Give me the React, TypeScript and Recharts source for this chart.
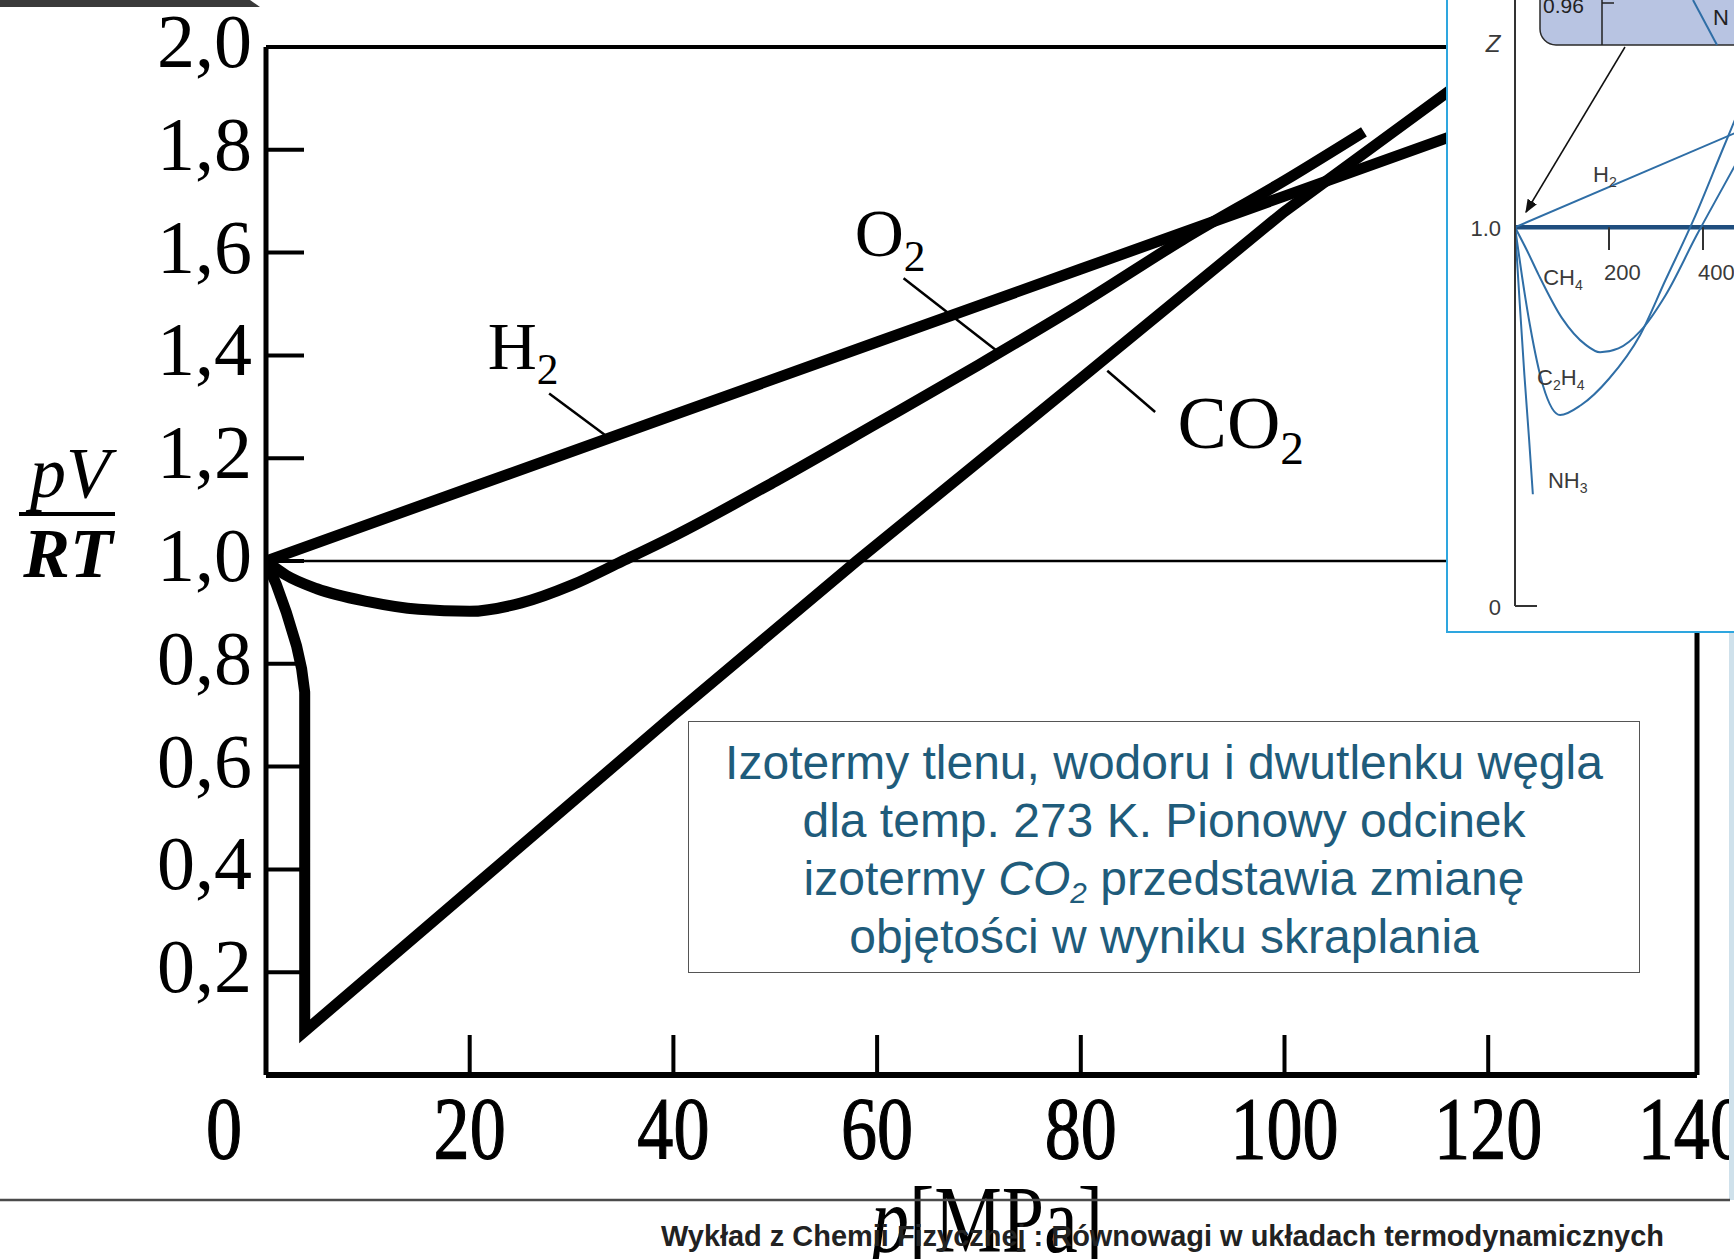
import { LineChart, Line, XAxis, YAxis, ReferenceLine, ReferenceDot } from 'recharts';

// pV/RT isotherms at 273 K, p in MPa
const X_TICKS = [0, 20, 40, 60, 80, 100, 120, 140];
const Y_TICKS = [0.2, 0.4, 0.6, 0.8, 1.0, 1.2, 1.4, 1.6, 1.8, 2.0];

const H2_PTS: [number, number][] = [
  [0, 1.0], [20, 1.142], [40, 1.284], [60, 1.426], [80, 1.568], [100, 1.71], [120, 1.852],
];

const O2_PTS: [number, number][] = [
  [0, 1.0], [2, 0.972], [5, 0.946], [10, 0.921], [15, 0.906], [20, 0.902], [25, 0.918],
  [30, 0.953], [35, 1.0], [40, 1.048], [50, 1.155], [60, 1.268], [70, 1.382], [80, 1.5],
  [90, 1.625], [100, 1.74], [107.8, 1.835],
];

// vertical drop at ~3.8 MPa = condensation
const CO2_PTS: [number, number][] = [
  [0, 1.0], [1, 0.955], [2, 0.9], [3, 0.835], [3.5, 0.79], [3.8, 0.745], [3.8, 0.085],
  [20, 0.36], [40, 0.7], [58, 1.0], [80, 1.355], [100, 1.68], [120, 1.97],
];

// small Z vs p [atm] figure in the corner
const INSET_H2: [number, number][] = [[0, 1.0], [480, 1.255]];
const INSET_CH4: [number, number][] = [
  [0, 1.0], [25, 0.94], [50, 0.875], [100, 0.76], [150, 0.69], [181, 0.67], [220, 0.68],
  [266, 0.725], [320, 0.82], [387, 0.98], [440, 1.1], [480, 1.19],
];
const INSET_C2H4: [number, number][] = [
  [0, 1.0], [15, 0.87], [32, 0.74], [60, 0.58], [96, 0.504], [140, 0.53], [200, 0.6],
  [266, 0.715], [320, 0.86], [380, 1.02], [440, 1.2], [480, 1.32],
];
const INSET_NH3: [number, number][] = [[0, 1.0], [10, 0.8], [20, 0.61], [30, 0.44], [38, 0.295]];

const toPts = (pairs: [number, number][]) => pairs.map(([p, z]) => ({ p, z }));

const SERIF = "'Liberation Serif', 'Times New Roman', serif";
const SANS = "'Liberation Sans', Arial, sans-serif";
const INSET_BLUE = '#2f6ea6';
const INSET_TEXT = '#3a3a3a';

const renderXTick = (props: any) => {
  const { x, y, payload } = props;
  const v = payload.value;
  const dx = v === 0 ? -42 : 0;
  return (
    <g>
      {v > 0 && v < 140 && (
        <line x1={x} x2={x} y1={y} y2={y - 40} stroke="#000" strokeWidth={4} />
      )}
      <text
        transform={`translate(${x + dx},${y + 83}) scale(0.82,1)`}
        textAnchor="middle"
        fontFamily={SERIF}
        fontSize={88}
        fill="#000"
        stroke="#000"
        strokeWidth={1.2}
      >
        {v}
      </text>
    </g>
  );
};

const renderYTick = (props: any) => {
  const { x, y, payload } = props;
  const v = payload.value;
  return (
    <g>
      {v < 1.95 && (
        <line x1={x} x2={x + 38} y1={y} y2={y} stroke="#000" strokeWidth={4} />
      )}
      <text x={x - 14} y={y + 20} textAnchor="end" fontFamily={SERIF} fontSize={76} fill="#000">
        {v.toFixed(1).replace('.', ',')}
      </text>
    </g>
  );
};

const renderInsetYTick = (props: any) => {
  const { x, y, payload } = props;
  const v = payload.value;
  return (
    <g>
      {v === 0 && <line x1={x} x2={x + 22} y1={y} y2={y} stroke="#333" strokeWidth={2} />}
      <text x={x - 14} y={y + 9} textAnchor="end" fontFamily={SANS} fontSize={22} fill={INSET_TEXT}>
        {v === 0 ? '0' : '1.0'}
      </text>
    </g>
  );
};

// formula with subscripted digits, e.g. [['C', '2'], ['H', '4']]
const formula = (parts: [string, string][], size: number, family: string, fill: string) =>
  (props: any) => (
    <text x={props.cx} y={props.cy} fontFamily={family} fontSize={size} fill={fill}>
      {parts.map(([main, sub], i) => (
        <tspan key={i}>
          <tspan dy={i === 0 ? 0 : -size * 0.22}>{main}</tspan>
          <tspan fontSize={size * 0.64} dy={size * 0.22}>{sub}</tspan>
        </tspan>
      ))}
    </text>
  );

const insetTickLabel = (label: string) => (props: any) => (
  <text x={props.cx - 5} y={props.cy} fontFamily={SANS} fontSize={22} fill={INSET_TEXT}>
    {label}
  </text>
);

export default function App() {
  const thick = { stroke: '#000', strokeWidth: 11, dot: false, isAnimationActive: false, dataKey: 'z' };
  const thin = { stroke: INSET_BLUE, strokeWidth: 2, dot: false, isAnimationActive: false, dataKey: 'z' };

  return (
    <div
      style={{
        position: 'absolute',
        left: 0,
        top: 0,
        width: 1734,
        height: 1259,
        overflow: 'hidden',
        background: '#fff',
      }}
    >
      <div style={{ position: 'absolute', left: 0, top: 0 }}>
        <LineChart width={1734} height={1259} margin={{ top: 47, right: 37, bottom: 183, left: 265 }}>
          <XAxis
            type="number"
            dataKey="p"
            domain={[0, 140.5]}
            ticks={X_TICKS}
            interval={0}
            height={1}
            tickSize={0}
            tickMargin={0}
            tickLine={false}
            axisLine={{ stroke: '#000', strokeWidth: 6 }}
            tick={renderXTick}
            allowDataOverflow
          />
          <YAxis
            type="number"
            domain={[0, 2]}
            ticks={Y_TICKS}
            interval={0}
            width={1}
            tickSize={0}
            tickMargin={0}
            tickLine={false}
            axisLine={{ stroke: '#000', strokeWidth: 5 }}
            tick={renderYTick}
            allowDataOverflow
          />
          <ReferenceLine y={2} stroke="#000" strokeWidth={4} />
          <ReferenceLine x={140.5} stroke="#000" strokeWidth={5} />
          <ReferenceLine y={1} stroke="#000" strokeWidth={2.5} />

          {/* leader lines from the gas names to their curves */}
          <ReferenceLine segment={[{ x: 27.8, y: 1.326 }, { x: 33.35, y: 1.244 }]} stroke="#000" strokeWidth={2.5} />
          <ReferenceLine segment={[{ x: 62.6, y: 1.55 }, { x: 72, y: 1.405 }]} stroke="#000" strokeWidth={2.5} />
          <ReferenceLine segment={[{ x: 82.6, y: 1.37 }, { x: 87.3, y: 1.29 }]} stroke="#000" strokeWidth={2.5} />

          <Line {...thick} data={toPts(H2_PTS)} type="linear" />
          <Line {...thick} data={toPts(O2_PTS)} type="monotone" />
          <Line {...thick} data={toPts(CO2_PTS)} type="linear" />

          <ReferenceDot x={21.76} y={1.374} r={0} shape={formula([['H', '2']], 68, SERIF, '#000')} />
          <ReferenceDot x={57.8} y={1.593} r={0} shape={formula([['O', '2']], 68, SERIF, '#000')} />
          <ReferenceDot x={89.5} y={1.22} r={0} shape={formula([['CO', '2']], 74, SERIF, '#000')} />
        </LineChart>
      </div>

      {/* caption box */}
      <div
        style={{
          position: 'absolute',
          left: 688,
          top: 721,
          width: 952,
          height: 252,
          boxSizing: 'border-box',
          border: '1.5px solid #555',
          background: '#fff',
          paddingTop: 12,
          textAlign: 'center',
          fontFamily: SANS,
          fontSize: 48,
          lineHeight: '58px',
          color: '#1f5c7b',
        }}
      >
        <div>Izotermy tlenu, wodoru i dwutlenku węgla</div>
        <div>dla temp. 273 K. Pionowy odcinek</div>
        <div>
          izotermy{' '}
          <i>
            CO
            <sub style={{ fontSize: '0.62em', lineHeight: 0, verticalAlign: '-0.28em' }}>2</sub>
          </i>{' '}
          przedstawia zmianę
        </div>
        <div>objętości w wyniku skraplania</div>
      </div>

      {/* corner figure */}
      <div
        style={{
          position: 'absolute',
          left: 1446,
          top: -2,
          width: 320,
          height: 635,
          boxSizing: 'border-box',
          border: '2px solid #2ea6df',
          background: '#fff',
        }}
      />
      <div style={{ position: 'absolute', left: 1446, top: 0 }}>
        <LineChart width={320} height={640} margin={{ top: 0, right: 16, bottom: 34, left: 68 }}>
          <XAxis type="number" dataKey="p" domain={[0, 500]} hide allowDataOverflow />
          <YAxis
            type="number"
            domain={[0, 1.6]}
            ticks={[0, 1]}
            interval={0}
            width={1}
            tickSize={0}
            tickMargin={0}
            tickLine={false}
            axisLine={{ stroke: '#333', strokeWidth: 2 }}
            tick={renderInsetYTick}
          />
          <ReferenceLine y={1} stroke="#1f4e7e" strokeWidth={4.5} />
          <ReferenceLine segment={[{ x: 200, y: 1 }, { x: 200, y: 0.94 }]} stroke="#333" strokeWidth={2} />
          <ReferenceLine segment={[{ x: 400, y: 1 }, { x: 400, y: 0.94 }]} stroke="#333" strokeWidth={2} />
          <ReferenceDot x={200} y={0.86} r={0} shape={insetTickLabel('200')} />
          <ReferenceDot x={400} y={0.86} r={0} shape={insetTickLabel('400')} />

          <Line {...thin} data={toPts(INSET_H2)} type="linear" />
          <Line {...thin} data={toPts(INSET_CH4)} type="monotone" />
          <Line {...thin} data={toPts(INSET_C2H4)} type="monotone" />
          <Line {...thin} data={toPts(INSET_NH3)} type="monotone" />

          <ReferenceDot x={166} y={1.12} r={0} shape={formula([['H', '2']], 22, SANS, INSET_TEXT)} />
          <ReferenceDot x={60} y={0.847} r={0} shape={formula([['CH', '4']], 22, SANS, INSET_TEXT)} />
          <ReferenceDot x={47} y={0.583} r={0} shape={formula([['C', '2'], ['H', '4']], 22, SANS, INSET_TEXT)} />
          <ReferenceDot x={70} y={0.311} r={0} shape={formula([['NH', '3']], 22, SANS, INSET_TEXT)} />
        </LineChart>
      </div>

      <svg
        width={1734}
        height={1259}
        style={{ position: 'absolute', left: 0, top: 0, pointerEvents: 'none' }}
      >
        <defs>
          <marker id="arrowHead" viewBox="0 0 10 10" refX="9" refY="5" markerWidth="9" markerHeight="9" orient="auto">
            <path d="M0,1 L10,5 L0,9 z" fill="#111" />
          </marker>
        </defs>

        {/* slide header strip */}
        <polygon points="0,0 250,0 260,7 0,7" fill="#3a3a3a" />

        {/* y-axis title: pV / RT */}
        <text x={70} y={497} textAnchor="middle" fontFamily={SERIF} fontStyle="italic" fontSize={72} fill="#000">
          pV
        </text>
        <line x1={19} x2={115} y1={514} y2={514} stroke="#000" strokeWidth={4} />
        <text x={68} y={577} textAnchor="middle" fontFamily={SERIF} fontStyle="italic" fontWeight="bold" fontSize={70} fill="#000">
          RT
        </text>

        {/* x-axis title */}
        <text transform="translate(987,1252) scale(0.8,1)" textAnchor="middle" fontFamily={SERIF} fontSize={95} fill="#000">
          <tspan fontStyle="italic">p</tspan>[MPa]
        </text>

        {/* corner figure decorations */}
        <text x={1493} y={52} textAnchor="middle" fontFamily={SANS} fontStyle="italic" fontSize={24} fill={INSET_TEXT}>
          Z
        </text>
        <rect x={1540} y={-30} width={230} height={75} rx={16} fill="#b8c4e2" stroke="#2a2a2a" strokeWidth={1.5} />
        <text x={1543} y={13} fontFamily={SANS} fontSize={21} fill="#222">0.96</text>
        <line x1={1602} x2={1602} y1={0} y2={45} stroke="#222" strokeWidth={1.5} />
        <line x1={1602} x2={1614} y1={3} y2={3} stroke="#222" strokeWidth={1.5} />
        <line x1={1693} x2={1717} y1={0} y2={45} stroke={INSET_BLUE} strokeWidth={2} />
        <text x={1713} y={25} fontFamily={SANS} fontSize={22} fill="#222">N</text>
        <line x1={1625} y1={47} x2={1526} y2={212} stroke="#111" strokeWidth={1.5} markerEnd="url(#arrowHead)" />

        <rect x={1729} y={633} width={5} height={567} fill="#cfe1eb" />

        {/* footer */}
        <line x1={0} x2={1730} y1={1200} y2={1200} stroke="#4a4a4a" strokeWidth={2.5} />
        <text x={661} y={1246} fontFamily={SANS} fontWeight="bold" fontSize={29} textLength={1003} lengthAdjust="spacingAndGlyphs" fill="#222">
          Wykład z Chemii Fizycznej : Równowagi w układach termodynamicznych
        </text>
      </svg>
    </div>
  );
}
